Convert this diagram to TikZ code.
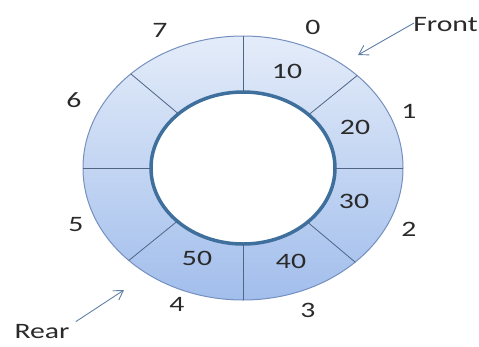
\documentclass[tikz,border=0pt]{standalone}
\usepackage{fontspec}
\setmainfont{Carlito}
\usetikzlibrary{shapes.geometric,arrows.meta}
\definecolor{ringtop}{HTML}{E4ECF9}
\definecolor{ringbot}{HTML}{A2BEEC}
\definecolor{ringedge}{HTML}{7590BE}
\definecolor{inneredge}{HTML}{3F6F9C}
\definecolor{divider}{HTML}{4E6584}
\definecolor{arrowcol}{HTML}{5F7FA8}
\definecolor{txt}{HTML}{2A2A2A}
\begin{document}
\begin{tikzpicture}[x=1pt,y=-1pt,
  lbl/.style={font=\fontsize{22}{22}\selectfont, text=txt, inner sep=0pt, xscale=1.35},
  divline/.style={draw=divider, line width=0.8pt},
  ptr/.style={draw=arrowcol, line width=0.9pt, -{Straight Barb[length=9pt,width=11pt]}}]
\useasboundingbox (0,0) rectangle (479,346);
\node[ellipse, draw=ringedge, line width=1pt, top color=ringtop, bottom color=ringbot,
      minimum width=320pt, minimum height=264pt, inner sep=0pt, outer sep=0pt] (outer) at (243,168) {};
\node[ellipse, draw=inneredge, line width=3.5pt, fill=white,
      minimum width=184pt, minimum height=152pt, inner sep=0pt, outer sep=0pt] (inner) at (243,168) {};
% dividers
\draw[divline] (outer.north) -- (inner.north);
\draw[divline] (outer.south) -- (inner.south);
\draw[divline] (outer.west) -- (inner.west);
\draw[divline] (outer.east) -- (inner.east);
\draw[divline] (outer.39.5) -- (inner.39.5);
\draw[divline] (outer.140.5) -- (inner.140.5);
\draw[divline] (outer.219.5) -- (inner.219.5);
\draw[divline] (outer.320.5) -- (inner.320.5);
% index labels
\node[lbl] (i7) at (160,30) {7};
\node[lbl] (i0) at (313,27) {0};
\node[lbl] (i1) at (409,111) {1};
\node[lbl] (i6) at (74,100) {6};
\node[lbl] (i2) at (409,229) {2};
\node[lbl] (i5) at (76,225) {5};
\node[lbl] (i4) at (177,304) {4};
\node[lbl] (i3) at (308,310) {3};
% values
\node[lbl] (v10) at (287,71) {10};
\node[lbl] (v20) at (355,127) {20};
\node[lbl] (v30) at (354,201) {30};
\node[lbl] (v40) at (291,261) {40};
\node[lbl] (v50) at (197,258) {50};
% pointers
\node[lbl, anchor=west] (front) at (413,25) {Front};
\node[lbl] (rear) at (42,332) {Rear};
\coordinate (fronttip) at (358,55);
\coordinate (reartip) at (124,290);
\draw[ptr] ([xshift=1pt,yshift=2pt]front.west) -- (fronttip);
\draw[ptr] ([xshift=6pt,yshift=3pt]rear.north east) -- (reartip);
\end{tikzpicture}
\end{document}
